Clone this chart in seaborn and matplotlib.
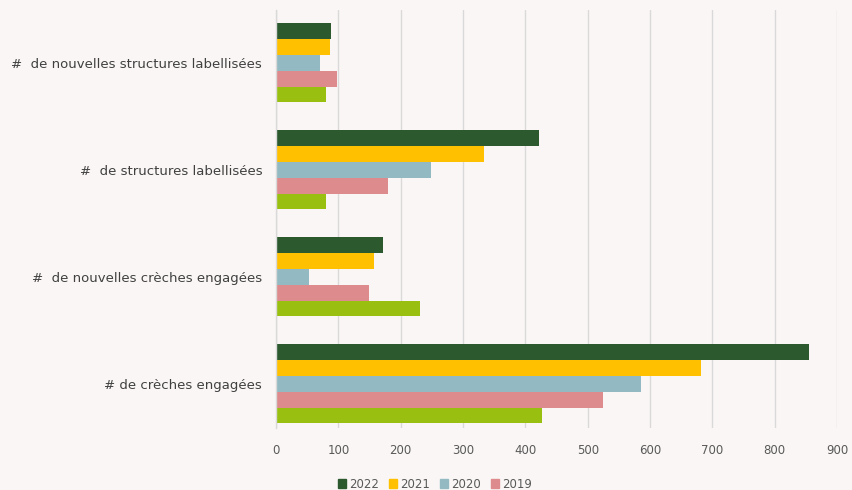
import pandas as pd
import matplotlib.pyplot as plt
import seaborn as sns

# Données
categories = [
    "#  de nouvelles structures labellisées",
    "#  de structures labellisées",
    "#  de nouvelles crèches engagées",
    "# de crèches engagées",
]
annees = ["2022", "2021", "2020", "2019", "2018"]
valeurs = {
    "2022": [88, 422, 172, 855],
    "2021": [86, 333, 157, 682],
    "2020": [70, 248, 53, 585],
    "2019": [98, 179, 149, 525],
    "2018": [80, 80, 231, 427],
}
couleurs = ["#2c5a2e", "#ffc000", "#93bac2", "#de8b8d", "#99bf10"]
ticks_x = [0, 100, 200, 300, 400, 500, 600, 700, 800, 900]

rows = []
for annee in annees:
    for cat, v in zip(categories, valeurs[annee]):
        rows.append({"categorie": cat, "annee": annee, "valeur": v})
df = pd.DataFrame(rows)

sns.set_theme(style="white")
plt.rcParams['font.family'] = ['DejaVu Sans']
bg = "#faf6f5"

fig = plt.figure(figsize=(8.53, 4.90), dpi=100, facecolor=bg)
ax = fig.add_axes([0.3236, 0.127, 0.6577, 0.853], facecolor=bg)

sns.barplot(data=df, x="valeur", y="categorie", hue="annee", orient="h",
            order=categories, hue_order=annees, palette=couleurs,
            width=0.74, saturation=1, linewidth=0, ax=ax, legend=False)

ax.set_xlim(0, 900)
ax.set_ylim(3.41, -0.495)
ax.set_xticks(ticks_x)
ax.xaxis.grid(True, color="#d9d9d9", lw=1)
ax.set_axisbelow(True)
for s in ["top", "right", "bottom"]:
    ax.spines[s].set_visible(False)
ax.spines["left"].set_color("#d9d9d9")
ax.spines["left"].set_linewidth(1)
ax.tick_params(axis="x", length=0, pad=12, labelsize=8.5, labelcolor="#595959")
ax.tick_params(axis="y", length=0, pad=10, labelsize=9.5, labelcolor="#404040")
ax.set_xlabel("")
ax.set_ylabel("")

# Légende (seulement 4 années visibles)
handles = [plt.Rectangle((0, 0), 1, 1, color=c) for c in couleurs[:4]]
fig.legend(handles, annees[:4], loc="center", bbox_to_anchor=(0.51, 0.012),
           ncol=4, frameon=False, fontsize=8.5, handlelength=0.7,
           handleheight=0.7, handletextpad=0.3, columnspacing=0.8,
           labelcolor="#595959")

fig.savefig("out.png", dpi=100, facecolor=bg)
